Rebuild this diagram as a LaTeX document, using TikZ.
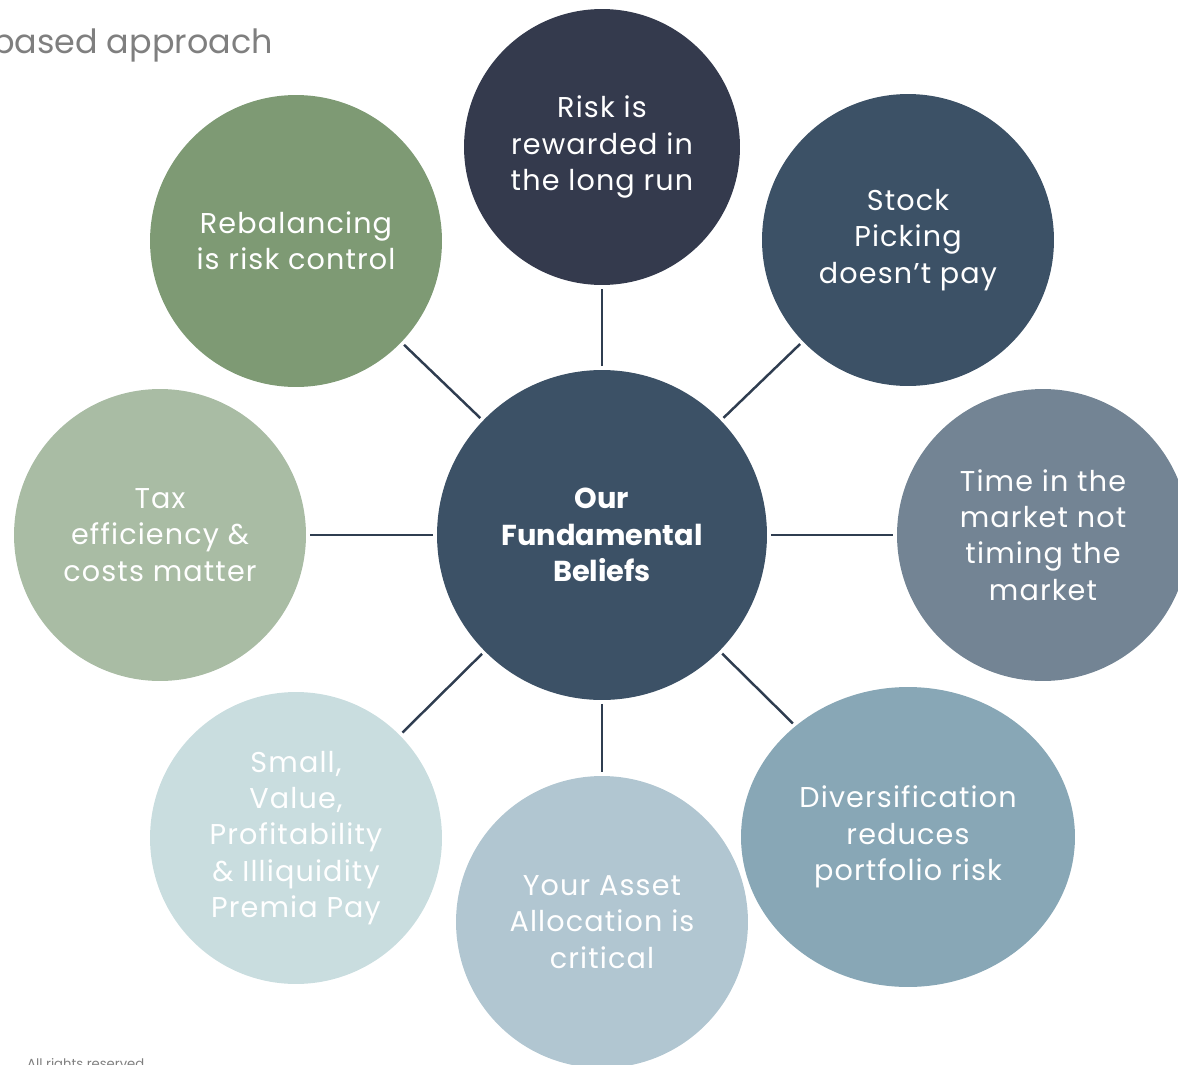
\documentclass[tikz,border=0pt]{standalone}
\usepackage{fontspec}
\setmainfont{Poppins}
\newfontfamily\beliefface[LetterSpace=4]{Poppins}
\usetikzlibrary{shapes.geometric}
\definecolor{riskfill}{HTML}{343A4D}
\definecolor{navyfill}{HTML}{3C5166}
\definecolor{slatefill}{HTML}{738494}
\definecolor{steelfill}{HTML}{88A7B6}
\definecolor{mistfill}{HTML}{B1C6D1}
\definecolor{icefill}{HTML}{C9DDDF}
\definecolor{sagefill}{HTML}{A9BCA4}
\definecolor{mossfill}{HTML}{7E9A74}
\definecolor{linkcol}{HTML}{2F3D50}
\definecolor{notegray}{HTML}{7F7F7F}

\begin{document}
\begin{tikzpicture}[
        x=0.02cm, y=-0.02cm,
        belief/.style={
            circle, minimum size=5.84cm, inner sep=0pt,
            align=center, text=white,
            font=\beliefface\fontsize{16.3}{20.7}\selectfont
        },
        link/.style={
            draw=linkcol, line width=1.4pt,
            shorten <=2pt, shorten >=2pt
        }
    ]

    \useasboundingbox (0, 0) rectangle (1178, 1065);
    \clip (0, 0) rectangle (1178, 1065);

    \node[font=\fontsize{19}{22}\selectfont, text=notegray,
          anchor=base west] (title) at (-14, 53) {based approach};
    \node[font=\fontsize{7.5}{8}\selectfont, text=notegray,
          anchor=base west] (rights) at (21, 1068) {All rights reserved.};

    % centre belief
    \node[belief, fill=navyfill, minimum size=6.6cm,
          font=\fontsize{16.4}{20.7}\selectfont\bfseries] (core) at (602, 535)
        {Our\\Fundamental\\Beliefs};

    % ring of beliefs
    \node[belief, fill=riskfill, minimum size=5.52cm] (risk) at (602, 147)
        {Risk is\\rewarded in\\the long run};
    \node[belief, fill=navyfill] (stock) at (908, 240)
        {Stock\\Picking\\doesn’t pay};
    \node[belief, fill=slatefill] (timing) at (1043, 535)
        {Time in the\\market not\\timing the\\market};
    \node[belief, ellipse, fill=steelfill, minimum width=6.68cm,
          minimum height=6cm] (divers) at (908, 837)
        {Diversification\\reduces\\portfolio risk};
    \node[belief, fill=mistfill] (alloc) at (602, 922)
        {Your Asset\\Allocation is\\critical};
    \node[belief, fill=icefill] (premia) at (296, 838)
        {Small,\\Value,\\Profitability\\\& Illiquidity\\Premia Pay};
    \node[belief, fill=sagefill] (tax) at (160, 535)
        {Tax\\efficiency \&\\costs matter};
    \node[belief, fill=mossfill] (rebal) at (296, 241)
        {Rebalancing\\is risk control};

    \foreach \b in {risk, stock, timing, divers, alloc, premia, tax, rebal}
        \draw[link] (core) -- (\b);

\end{tikzpicture}
\end{document}
